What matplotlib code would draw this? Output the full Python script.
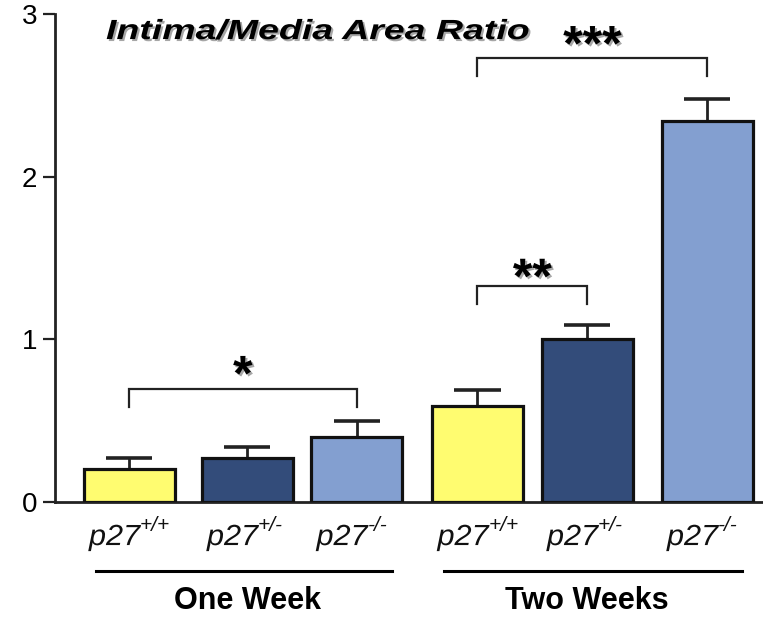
import matplotlib
matplotlib.use("Agg")
import matplotlib.pyplot as plt
from matplotlib import patheffects as pe
from matplotlib.transforms import Affine2D

plt.rcParams['font.family'] = ['Liberation Sans', 'DejaVu Sans']

# data
genotypes = ['+/+', '+/-', '-/-', '+/+', '+/-', '-/-']
groups = ['One Week', 'Two Weeks']
ratio = [0.20, 0.27, 0.40, 0.59, 1.00, 2.34]
sem = [0.07, 0.07, 0.10, 0.10, 0.09, 0.14]
# significance brackets: (left bar, right bar, height, label)
sig = [(0, 2, 0.695, '*'), (3, 4, 1.33, '**'), (3, 5, 2.73, '***')]
star_dy = [-1, -5.4, -1.8]

xpos = [0.74, 1.92, 3.015, 4.225, 5.32, 6.52]
colors = ['#FFFC70', '#334C7A', '#839FD0'] * 2


class Wide(pe.AbstractPathEffect):
    # stretch text horizontally, optional grey drop shadow
    def __init__(self, sx=1.0, shadow=False):
        super().__init__()
        self.sx = sx
        self.shadow = shadow

    def draw_path(self, renderer, gc, tpath, affine, rgbFace=None):
        aff = Affine2D().scale(self.sx, 1.0) + affine
        if self.shadow:
            gc0 = renderer.new_gc()
            gc0.copy_properties(gc)
            renderer.draw_path(gc0, tpath, aff + Affine2D().translate(2, -2), (0.65, 0.65, 0.65))
            gc0.restore()
        renderer.draw_path(gc, tpath, aff, rgbFace)


fig = plt.figure(figsize=(7.63, 6.17), dpi=100, facecolor='w')
ax = fig.add_axes([55 / 763, 115 / 617, 708 / 763, 488 / 617])

ax.bar(xpos, ratio, width=0.91, color=colors, edgecolor='#111111', linewidth=2.3, zorder=3)
ax.vlines(xpos, ratio, [r + e for r, e in zip(ratio, sem)], color='#222222', linewidth=2, zorder=2)
ax.hlines([r + e for r, e in zip(ratio, sem)], [x - 0.23 for x in xpos], [x + 0.23 for x in xpos],
          color='#222222', linewidth=2.6, zorder=2)

for (i, j, h, lab), dy in zip(sig, star_dy):
    ax.plot([xpos[i], xpos[i], xpos[j], xpos[j]], [h - 0.11, h, h, h - 0.11],
            color='#222222', linewidth=1.6, solid_joinstyle='miter')
    ax.annotate(lab, xy=((xpos[i] + xpos[j]) / 2, h), xytext=(0, dy), textcoords='offset points',
                ha='center', va='baseline', fontsize=36, fontweight='bold',
                path_effects=[Wide(1.0, shadow=True)])

ax.text(0.51, 2.846, 'Intima/Media Area Ratio', fontsize=20, fontweight='bold', style='italic',
        ha='left', va='baseline', path_effects=[Wide(1.35, shadow=True)])

tr = ax.get_xaxis_transform()
for x, g in zip(xpos, genotypes):
    ax.annotate('p27', xy=(x - 0.40, 0), xycoords=tr, xytext=(0, -31), textcoords='offset points',
                ha='left', va='baseline', fontsize=21, style='italic', color='#111111',
                path_effects=[Wide(1.05)])
    ax.annotate(g, xy=(x + 0.11, 0), xycoords=tr, xytext=(0, -21), textcoords='offset points',
                ha='left', va='baseline', fontsize=15, style='italic', color='#111111')

for k, g in enumerate(groups):
    a, b = xpos[3 * k], xpos[3 * k + 2]
    ax.plot([a - 0.33, b + 0.35], [-0.1414, -0.1414], transform=tr, color='black',
            linewidth=2.2, clip_on=False)
    ax.annotate(g, xy=(xpos[3 * k + 1], 0), xycoords=tr, xytext=(0, -77), textcoords='offset points',
                ha='center', va='baseline', fontsize=22, fontweight='bold')

ax.set_xlim(0, 7.08)
ax.set_ylim(0, 3)
ax.set_yticks([0, 1, 2, 3])
ax.set_xticks([])
ax.tick_params(axis='y', labelsize=20, length=9, width=1.6, pad=4, color='#222222')
for s in ['top', 'right']:
    ax.spines[s].set_visible(False)
for s in ['left', 'bottom']:
    ax.spines[s].set_linewidth(2)
    ax.spines[s].set_color('#222222')

fig.savefig('out.png', dpi=100, facecolor='w')
